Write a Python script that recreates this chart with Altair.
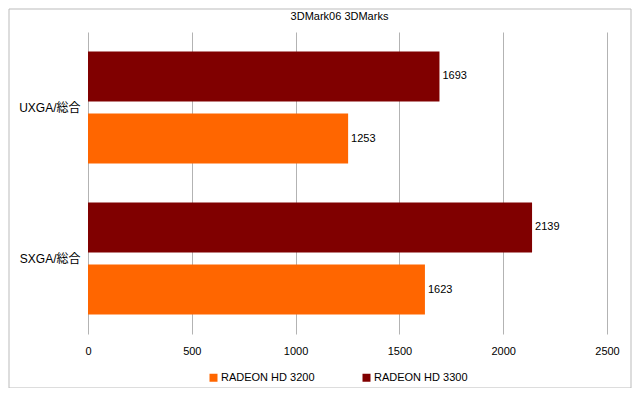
import altair as alt
import pandas as pd

title_text = "3DMark06 3DMarks"
categories = ["UXGA/総合", "SXGA/総合"]
series = ["RADEON HD 3200", "RADEON HD 3300"]
hd3200 = [1253, 1623]
hd3300 = [1693, 2139]
colors = ["#FF6600", "#800000"]
x_ticks = [0, 500, 1000, 1500, 2000, 2500]

rows = []
for i, c in enumerate(categories):
    rows.append({"cat": c, "series": series[0], "value": hd3200[i]})
    rows.append({"cat": c, "series": series[1], "value": hd3300[i]})
df = pd.DataFrame(rows)

FONT = "'Liberation Sans', 'Noto Sans CJK JP', sans-serif"
W, H = 519, 302

base = alt.Chart(df).encode(
    y=alt.Y("cat:N", sort=categories, title=None,
            scale=alt.Scale(paddingInner=0, paddingOuter=0),
            axis=alt.Axis(domain=False, ticks=False, labelPadding=8, labelFontSize=12,
                          labelColor="#000", labelFont=FONT)),
    yOffset=alt.YOffset("series:N", sort=[series[1], series[0]],
                        scale=alt.Scale(paddingInner=0.1935, paddingOuter=0.314)),
)

bars = base.mark_bar().encode(
    x=alt.X("value:Q", title=None,
            scale=alt.Scale(domain=[0, 2500], nice=False),
            axis=alt.Axis(values=x_ticks, format="d", domain=False, ticks=False, grid=True,
                          labelFlush=False,
                          gridColor="#b3b3b3", labelPadding=11, labelFontSize=11,
                          labelColor="#000", labelFont=FONT)),
    color=alt.Color("series:N", sort=series,
                    scale=alt.Scale(domain=series, range=colors),
                    legend=alt.Legend(title=None, orient="none", direction="horizontal",
                                      legendX=120, legendY=340, symbolType="square",
                                      symbolSize=64, symbolStrokeWidth=0,
                                      labelFontSize=11, labelFont=FONT, labelColor="#000",
                                      columnPadding=46, labelOffset=2)),
)

labels = base.mark_text(align="left", baseline="middle", dx=3, fontSize=11,
                        font=FONT, color="#000").encode(
    x="value:Q",
    text=alt.Text("value:Q"),
)

frame = alt.Chart(pd.DataFrame({"a": [0]})).mark_rect(
    fill=None, stroke="#bbbbbb", strokeWidth=1).encode(
    x=alt.value(-79), x2=alt.value(W + 24), y=alt.value(-23), y2=alt.value(H + 54))

title = alt.Chart(pd.DataFrame({"t": [title_text]})).mark_text(
    fontSize=11, font=FONT, color="#000", align="center", baseline="middle").encode(
    text="t:N", x=alt.value(W / 2 - 8), y=alt.value(-15))

chart = alt.layer(frame, title, bars, labels).properties(
    width=W, height=H,
    padding={"left": 80, "top": 24, "right": 25, "bottom": 54},
    autosize=alt.AutoSizeParams(type="none"),
).configure_view(stroke=None)

chart.save("out.html", embed_options={"renderer": "svg", "actions": False})
